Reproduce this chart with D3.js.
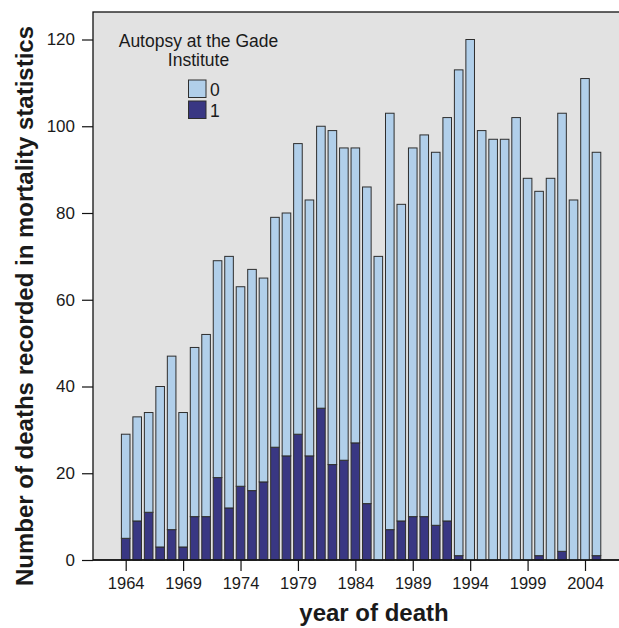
<!DOCTYPE html>
<html>
<head>
<meta charset="utf-8">
<script src="https://cdn.jsdelivr.net/npm/d3@7"></script>
<style>
  html, body { margin: 0; padding: 0; background: #ffffff; }
  svg { display: block; }
  text { font-family: "Liberation Sans", Arial, Helvetica, sans-serif; fill: #1a1a1a; }
</style>
</head>
<body>
<svg id="chart" width="619" height="628"></svg>
<script>
// ---- data ----
const years = [1964,1965,1966,1967,1968,1969,1970,1971,1972,1973,1974,1975,1976,1977,1978,1979,1980,1981,1982,1983,1984,1985,1986,1987,1988,1989,1990,1991,1992,1993,1994,1995,1996,1997,1998,1999,2000,2001,2002,2003,2004,2005];
const totals = [29,33,34,40,47,34,49,52,69,70,63,67,65,79,80,96,83,100,99,95,95,86,70,103,82,95,98,94,102,113,120,99,97,97,102,88,85,88,103,83,111,94];
const autopsy1 = [5,9,11,3,7,3,10,10,19,12,17,16,18,26,24,29,24,35,22,23,27,13,0,7,9,10,10,8,9,1,0,0,0,0,0,0,1,0,2,0,0,1];
const autopsy0 = totals.map((t, i) => t - autopsy1[i]);
const xTickValues = [1964,1969,1974,1979,1984,1989,1994,1999,2004];
const yTickValues = [0,20,40,60,80,100,120];
const legendTitle = ["Autopsy at the Gade", "Institute"];
const legendLabels = ["0", "1"];
const xTitle = "year of death";
const yTitle = "Number of deaths recorded in mortality statistics";

// ---- layout ----
const panel = { left: 93, top: 12, right: 640, bottom: 560 };
const colors = { light: "#b1cfea", dark: "#393783", bg: "#e2e2e2", stroke: "#2e2e2e" };

const svg = d3.select("#chart");

const x = d3.scaleLinear().domain([1964, 2004]).range([125.7, 585]);
const y = d3.scaleLinear().domain([0, 120]).range([560, 39.5]);
const barW = 8.6;

// panel background
svg.append("rect")
  .attr("x", panel.left).attr("y", panel.top)
  .attr("width", panel.right - panel.left).attr("height", panel.bottom - panel.top)
  .attr("fill", colors.bg)
  .attr("stroke", "#111").attr("stroke-width", 1.3);

// stacked bars
const stackData = years.map((yr, i) => ({ year: yr, a1: autopsy1[i], a0: autopsy0[i] }));
const stack = d3.stack().keys(["a1", "a0"])(stackData);
const fillFor = { a1: colors.dark, a0: colors.light };

svg.append("g").selectAll("g")
  .data(stack)
  .join("g")
  .attr("fill", d => fillFor[d.key])
  .selectAll("rect")
  .data(d => d.filter(s => s[1] - s[0] > 0))
  .join("rect")
  .attr("x", d => x(d.data.year) - barW / 2)
  .attr("width", barW)
  .attr("y", d => y(d[1]))
  .attr("height", d => y(d[0]) - y(d[1]))
  .attr("stroke", colors.stroke)
  .attr("stroke-width", 1);

// bottom axis line
svg.append("line")
  .attr("x1", panel.left).attr("x2", 619)
  .attr("y1", panel.bottom).attr("y2", panel.bottom)
  .attr("stroke", "#111").attr("stroke-width", 1.3);

// axes
const xAxis = d3.axisBottom(x).tickValues(xTickValues).tickFormat(d3.format("d"))
  .tickSize(11).tickPadding(6);
const gx = svg.append("g").attr("transform", `translate(0,${panel.bottom})`).call(xAxis);
gx.select(".domain").remove();
gx.selectAll(".tick line").attr("stroke", "#111").attr("stroke-width", 1.2);
gx.selectAll(".tick text").attr("font-size", 16.5).attr("fill", "#1a1a1a")
  .attr("font-family", "'Liberation Sans', Arial, sans-serif");

const yAxis = d3.axisLeft(y).tickValues(yTickValues).tickFormat(d3.format("d"))
  .tickSize(11).tickPadding(7);
const gy = svg.append("g").attr("transform", `translate(${panel.left},0)`).call(yAxis);
gy.select(".domain").remove();
gy.selectAll(".tick line").attr("stroke", "#111").attr("stroke-width", 1.2);
gy.selectAll(".tick text").attr("font-size", 17).attr("fill", "#1a1a1a")
  .attr("font-family", "'Liberation Sans', Arial, sans-serif");

// axis titles
svg.append("text")
  .attr("x", 374).attr("y", 621)
  .attr("text-anchor", "middle")
  .attr("font-size", 24).attr("font-weight", "bold")
  .text(xTitle);

svg.append("text")
  .attr("transform", "translate(33,306) rotate(-90)")
  .attr("text-anchor", "middle")
  .attr("font-size", 24).attr("font-weight", "bold")
  .text(yTitle);

// legend
const lg = svg.append("g");
lg.selectAll("text.lt")
  .data(legendTitle)
  .join("text")
  .attr("class", "lt")
  .attr("x", 198.5)
  .attr("y", (d, i) => 47 + i * 18.5)
  .attr("text-anchor", "middle")
  .attr("font-size", 17.5)
  .text(d => d);

const legendColors = [colors.light, colors.dark];
lg.selectAll("rect.lb")
  .data(legendLabels)
  .join("rect")
  .attr("class", "lb")
  .attr("x", 188.5)
  .attr("y", (d, i) => 80 + i * 21)
  .attr("width", 17.5).attr("height", 17.5)
  .attr("fill", (d, i) => legendColors[i])
  .attr("stroke", colors.stroke).attr("stroke-width", 1);

lg.selectAll("text.ll")
  .data(legendLabels)
  .join("text")
  .attr("class", "ll")
  .attr("x", 210)
  .attr("y", (d, i) => 96 + i * 21)
  .attr("font-size", 17.5)
  .text(d => d);
</script>
</body>
</html>
